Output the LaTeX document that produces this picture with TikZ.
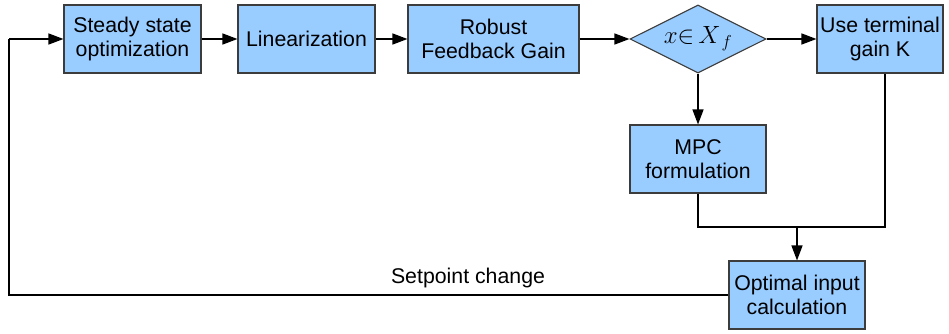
\documentclass[tikz,border=0pt]{standalone}
\usepackage{fontspec}
\setmainfont{Liberation Sans}
\usetikzlibrary{arrows.meta,shapes.geometric}
\definecolor{boxfill}{RGB}{153,204,255}
\definecolor{boxline}{RGB}{60,60,60}
\begin{document}
\begin{tikzpicture}[x=1pt,y=-1pt,
  every node/.style={font=\fontsize{21.3}{24}\selectfont, align=center},
  stepbox/.style={draw=boxline, fill=boxfill, line width=1.1pt, inner sep=0pt,
    minimum height=68pt},
  decide/.style={diamond, draw=boxline, fill=boxfill, line width=1.1pt, inner sep=0pt,
    minimum width=136pt, minimum height=68pt, aspect=2},
  flow/.style={line width=1.4pt, -{Triangle[length=15pt,width=11pt]}},
  wire/.style={line width=1.4pt}]
\useasboundingbox (0,0) rectangle (949,334);

% process blocks
\node[stepbox, minimum width=137pt] (sso) at (132.5,39) {Steady state\\optimization};
\node[stepbox, minimum width=137pt] (lin) at (306.5,39) {Linearization};
\node[stepbox, minimum width=171pt] (rfg) at (493.5,39) {Robust\\Feedback Gain};
\node[decide] (dec) at (698,39) {\fontsize{23}{24}\selectfont$x{\in}\,X_{\,f}$};
\node[stepbox, minimum width=126pt] (use) at (880,39) {Use terminal\\gain K};
\node[stepbox, minimum width=136pt] (mpc) at (698,159) {MPC\\formulation};
\node[stepbox, minimum width=136pt] (opt) at (797,295) {Optimal input\\calculation};

% routing points
\coordinate (jn) at (797,227);
\coordinate (fbl) at (9,295);
\coordinate (fbt) at (9,39);

% main chain
\draw[flow] (sso) -- (lin);
\draw[flow] (lin) -- (rfg);
\draw[flow] (rfg) -- (dec);
\draw[flow] (dec) -- (use);
\draw[flow] (dec) -- (mpc);

% merge into optimal input calculation
\draw[wire] (mpc.south) |- (jn);
\draw[wire] ([xshift=5pt]use.south) |- (jn);
\draw[flow] (jn) -- (opt.north);

% setpoint feedback loop
\draw[wire] (opt.west) -- (fbl) -- (fbt);
\draw[flow] (fbt) -- (sso.west);
\node[anchor=south] (spc) at (468,291) {Setpoint change};
\end{tikzpicture}
\end{document}
